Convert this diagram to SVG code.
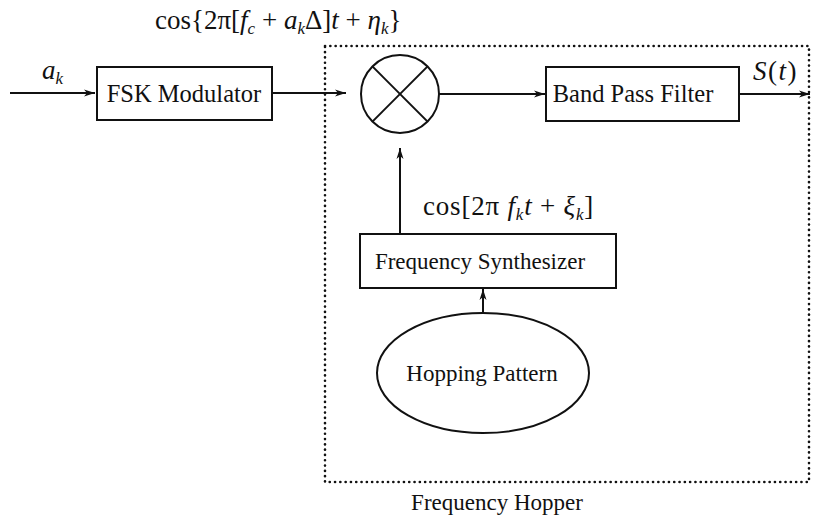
<svg xmlns="http://www.w3.org/2000/svg" width="813" height="524" viewBox="0 0 813 524">
<style>
.ln{stroke:#111;stroke-width:2;fill:none}
.lbl{font-family:"Liberation Serif","Times New Roman",serif;font-size:23px;fill:#111}
.big{font-size:24.5px}
.math{font-family:"Liberation Serif","Times New Roman",serif;font-size:27px;fill:#111}
.it{font-style:italic}
.sub{font-size:17px;font-style:italic}
.dot{stroke:#111;stroke-width:2.6;fill:none;stroke-dasharray:0.1 5.2;stroke-linecap:round}
</style>
<defs>
<marker id="ah" markerWidth="12" markerHeight="8" refX="11" refY="4" orient="auto" markerUnits="userSpaceOnUse">
<path d="M0,0.5 L11,4 L0,7.5 L3,4 Z" fill="#111"/>
</marker>
</defs>
<g id="frequency-hopper">
<rect class="dot" x="325" y="46" width="484" height="436"/>
<text class="lbl" x="497" y="510" text-anchor="middle">Frequency Hopper</text>
</g>
<g id="fsk-modulator">
<rect class="ln" x="97" y="67" width="175" height="53"/>
<text class="lbl big" x="184" y="102" text-anchor="middle">FSK Modulator</text>
</g>
<g id="mixer">
<circle class="ln" cx="400" cy="94" r="39"/>
<line class="ln" x1="372.4" y1="66.4" x2="427.6" y2="121.6"/>
<line class="ln" x1="427.6" y1="66.4" x2="372.4" y2="121.6"/>
</g>
<g id="band-pass-filter">
<rect class="ln" x="546" y="67" width="193" height="54"/>
<text class="lbl big" x="633" y="102" text-anchor="middle">Band Pass Filter</text>
</g>
<g id="frequency-synthesizer">
<rect class="ln" x="360" y="234" width="256" height="54"/>
<text class="lbl" x="480" y="269" text-anchor="middle">Frequency Synthesizer</text>
</g>
<g id="hopping-pattern">
<ellipse class="ln" cx="483" cy="373" rx="106" ry="60"/>
<text class="lbl" x="482" y="381" text-anchor="middle">Hopping Pattern</text>
</g>
<g id="connectors">
<line class="ln" x1="10" y1="93" x2="95" y2="93" marker-end="url(#ah)"/>
<line class="ln" x1="272" y1="93" x2="346" y2="93" marker-end="url(#ah)"/>
<line class="ln" x1="439" y1="94" x2="545" y2="94" marker-end="url(#ah)"/>
<line class="ln" x1="739" y1="94" x2="810" y2="94" marker-end="url(#ah)"/>
<line class="ln" x1="400" y1="234" x2="400" y2="148" marker-end="url(#ah)"/>
<line class="ln" x1="483" y1="313" x2="483" y2="289" marker-end="url(#ah)"/>
</g>
<g id="labels">
<text class="math" x="42" y="79"><tspan class="it">a</tspan><tspan class="sub" dy="5">k</tspan></text>
<text class="math" x="155" y="29">cos{2π[<tspan class="it">f</tspan><tspan class="sub" dy="5">c</tspan><tspan dy="-5"> + </tspan><tspan class="it">a</tspan><tspan class="sub" dy="5">k</tspan><tspan dy="-5">Δ]</tspan><tspan class="it">t</tspan> + <tspan class="it">η</tspan><tspan class="sub" dy="5">k</tspan><tspan dy="-5">}</tspan></text>
<text class="math" x="423" y="215" letter-spacing="0.8">cos[2π <tspan class="it">f</tspan><tspan class="sub" dy="5">k</tspan><tspan class="it" dy="-5">t</tspan> + <tspan class="it">ξ</tspan><tspan class="sub" dy="5">k</tspan><tspan dy="-5">]</tspan></text>
<text class="math" x="753" y="80" letter-spacing="1.5"><tspan class="it">S</tspan>(<tspan class="it">t</tspan>)</text>
</g>
</svg>
